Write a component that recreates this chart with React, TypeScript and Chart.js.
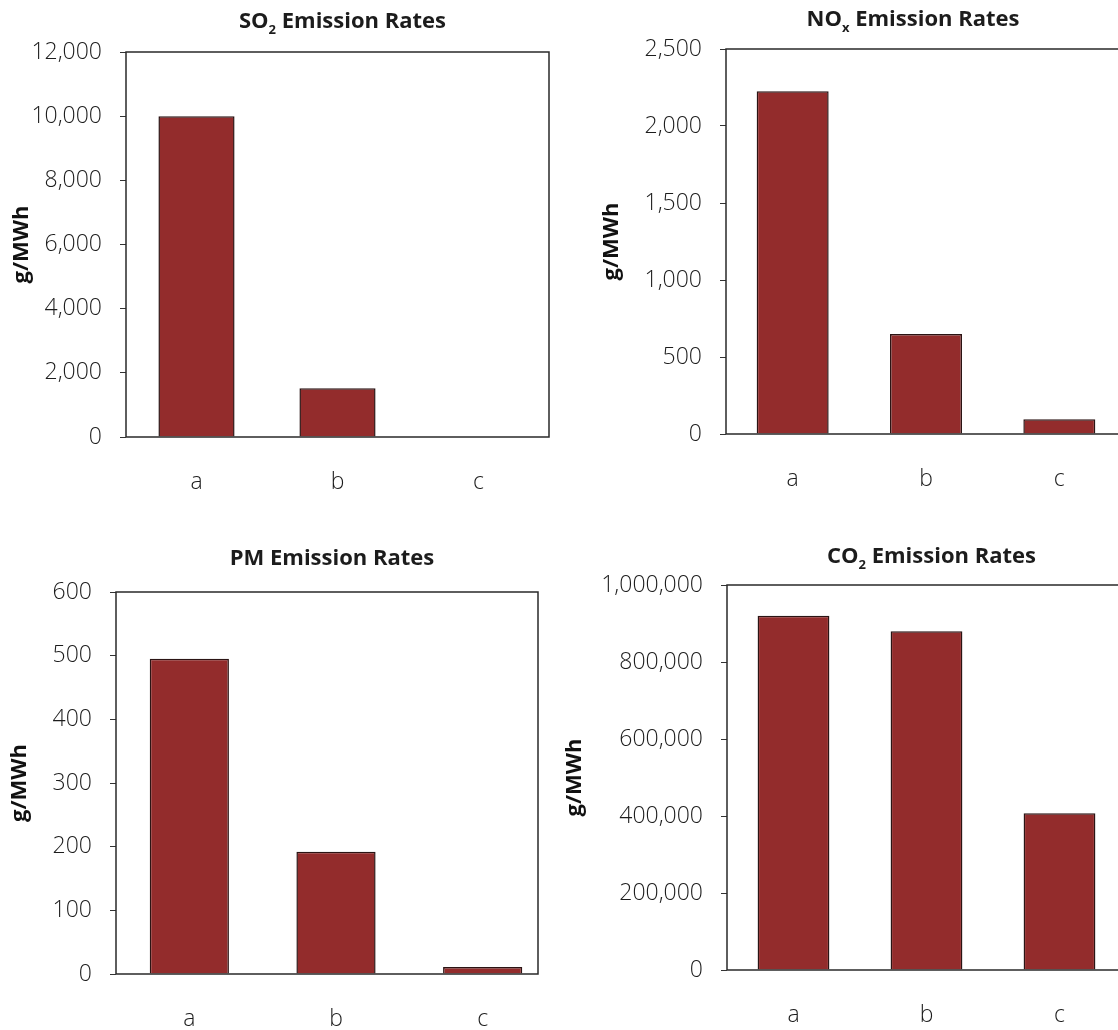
import React, { useEffect, useRef } from "react";
import { Chart, registerables } from "chart.js";

Chart.register(...registerables);

// Shared category labels for every panel
const categories = ["a", "b", "c"];

// Emission rates in g/MWh
const so2Values = [10000, 1520, 0];
const noxValues = [2225, 650, 96];
const pmValues = [495, 192, 11];
const co2Values = [920000, 880000, 407000];

// Value-axis ranges (max, step)
const so2Axis = [12000, 2000];
const noxAxis = [2500, 500];
const pmAxis = [600, 100];
const co2Axis = [1000000, 200000];

const yAxisTitle = "g/MWh";

const FONT = '"Open Sans", "DejaVu Sans", sans-serif';
const BAR_FILL = "#932C2C";
const BAR_EDGE = "#2b1414";
const INK = "#1c1c1c";

type TitlePart = { text: string; sub?: boolean };

type PanelSpec = {
  titleParts: TitlePart[];
  values: number[];
  axis: number[];
  box: { left: number; top: number; width: number; height: number };
  yAxisWidth: number;
  xAxisHeight: number;
  padTop: number;
  padRight: number;
  yTitlePad: number;
  frameInset: number;
  titleBaseline: number;
  titleDx: number;
};

// Draws the chart heading with a subscripted chemical formula
const richTitlePlugin = {
  id: "richTitle",
  afterDraw(chart: any, _args: any, opts: any) {
    const { ctx, chartArea } = chart;
    const parts: TitlePart[] = opts.parts || [];
    const mainFont = `bold ${opts.size}px ${FONT}`;
    const subFont = `bold ${opts.subSize}px ${FONT}`;
    ctx.save();
    let total = 0;
    const widths = parts.map((p) => {
      ctx.font = p.sub ? subFont : mainFont;
      const w = ctx.measureText(p.text).width;
      total += w;
      return w;
    });
    let x = (chartArea.left + chartArea.right) / 2 + (opts.dx || 0) - total / 2;
    ctx.fillStyle = INK;
    ctx.textBaseline = "alphabetic";
    ctx.textAlign = "left";
    parts.forEach((p, i) => {
      ctx.font = p.sub ? subFont : mainFont;
      ctx.fillText(p.text, x, p.sub ? opts.y + opts.subShift : opts.y);
      x += widths[i];
    });
    ctx.restore();
  },
};

// Box around the plot area
const framePlugin = {
  id: "plotFrame",
  afterDatasetsDraw(chart: any, _args: any, opts: any) {
    const { ctx, chartArea } = chart;
    const { left, top, bottom } = chartArea;
    const right = chartArea.right - (opts.inset || 0);
    ctx.save();
    ctx.strokeStyle = "#2a2a2a";
    ctx.lineWidth = 1.5;
    ctx.beginPath();
    ctx.moveTo(left, bottom);
    ctx.lineTo(left, top);
    ctx.lineTo(right, top);
    ctx.lineTo(right, bottom);
    ctx.lineTo(left, bottom);
    ctx.stroke();
    ctx.restore();
  },
};

function Panel({ spec }: { spec: PanelSpec }) {
  const ref = useRef<HTMLCanvasElement | null>(null);

  useEffect(() => {
    if (!ref.current) return;
    const [max, step] = spec.axis;
    const chart = new Chart(ref.current, {
      type: "bar",
      data: {
        labels: categories,
        datasets: [
          {
            data: spec.values,
            backgroundColor: BAR_FILL,
            borderColor: BAR_EDGE,
            borderWidth: 1.5,
            barPercentage: 0.54,
            categoryPercentage: 1,
          },
        ],
      },
      options: {
        responsive: false,
        animation: false,
        layout: { padding: { top: spec.padTop, right: spec.padRight, left: 0, bottom: 0 } },
        plugins: {
          legend: { display: false },
          tooltip: { enabled: false },
          title: { display: false },
          richTitle: {
            parts: spec.titleParts,
            size: 22,
            subSize: 13,
            subShift: 6,
            y: spec.titleBaseline,
            dx: spec.titleDx,
          },
          plotFrame: { inset: spec.frameInset },
        } as any,
        scales: {
          x: {
            ticks: { color: INK, font: { family: FONT, size: 23, weight: "300" }, padding: 32 },
            grid: { display: false, drawTicks: false },
            border: { display: false },
            afterFit: (s: any) => {
              s.height = spec.xAxisHeight;
            },
          },
          y: {
            min: 0,
            max,
            ticks: {
              stepSize: step,
              color: INK,
              font: { family: FONT, size: 23, weight: "300" },
              padding: 18,
              callback: (v: any) => Number(v).toLocaleString("en-US"),
            },
            grid: {
              display: true,
              drawOnChartArea: false,
              drawTicks: true,
              tickLength: 6,
              color: "#333",
              lineWidth: 1,
            },
            border: { display: false },
            title: {
              display: true,
              text: yAxisTitle,
              color: "#111",
              font: { family: FONT, size: 22, weight: "bold" },
              padding: { top: spec.yTitlePad, bottom: 0 },
            },
            afterFit: (s: any) => {
              s.width = spec.yAxisWidth;
            },
          },
        },
      },
      plugins: [richTitlePlugin, framePlugin],
    });
    return () => chart.destroy();
  }, [spec]);

  const { left, top, width, height } = spec.box;
  return (
    <canvas
      ref={ref}
      width={width}
      height={height}
      style={{ position: "absolute", left, top, width, height }}
    />
  );
}

const panels: PanelSpec[] = [
  {
    titleParts: [{ text: "SO" }, { text: "2", sub: true }, { text: " Emission Rates" }],
    values: so2Values,
    axis: so2Axis,
    box: { left: 0, top: 0, width: 559, height: 515 },
    yAxisWidth: 126,
    xAxisHeight: 78,
    padTop: 52,
    padRight: 10,
    yTitlePad: 9,
    frameInset: 0,
    titleBaseline: 28,
    titleDx: 5,
  },
  {
    titleParts: [{ text: "NO" }, { text: "x", sub: true }, { text: " Emission Rates" }],
    values: noxValues,
    axis: noxAxis,
    box: { left: 559, top: 0, width: 580, height: 515 },
    yAxisWidth: 167,
    xAxisHeight: 81,
    padTop: 49,
    padRight: 13,
    yTitlePad: 40,
    frameInset: 0,
    titleBaseline: 26,
    titleDx: -13,
  },
  {
    titleParts: [{ text: "PM Emission Rates" }],
    values: pmValues,
    axis: pmAxis,
    box: { left: 0, top: 515, width: 559, height: 515 },
    yAxisWidth: 116,
    xAxisHeight: 56,
    padTop: 77,
    padRight: 3,
    yTitlePad: 7,
    frameInset: 18,
    titleBaseline: 50,
    titleDx: -4,
  },
  {
    titleParts: [{ text: "CO" }, { text: "2", sub: true }, { text: " Emission Rates" }],
    values: co2Values,
    axis: co2Axis,
    box: { left: 559, top: 515, width: 580, height: 515 },
    yAxisWidth: 168,
    xAxisHeight: 60,
    padTop: 70,
    padRight: 13,
    yTitlePad: 3,
    frameInset: 0,
    titleBaseline: 48,
    titleDx: 5,
  },
];

export default function App() {
  return (
    <div
      style={{
        position: "absolute",
        left: 0,
        top: 0,
        width: 1118,
        height: 1030,
        overflow: "hidden",
        background: "#ffffff",
      }}
    >
      {panels.map((p, i) => (
        <Panel key={i} spec={p} />
      ))}
    </div>
  );
}
